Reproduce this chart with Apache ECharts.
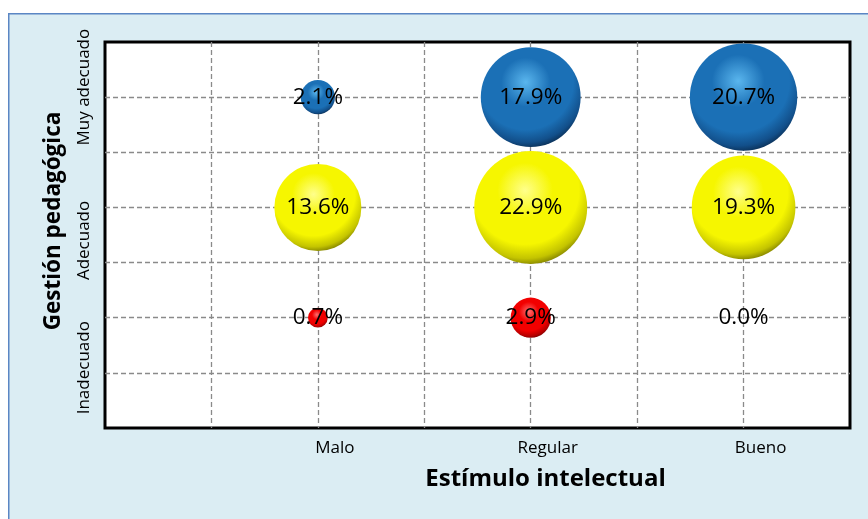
<!DOCTYPE html>
<html>
<head>
<meta charset="utf-8">
<script src="https://cdn.jsdelivr.net/npm/echarts@6/dist/echarts.min.js"></script>
<style>
  html, body { margin: 0; padding: 0; background: #ffffff; }
  #chart { width: 868px; height: 519px; }
</style>
</head>
<body>
<div id="chart"></div>
<script>
// Categories
const xLabels = ['Malo', 'Regular', 'Bueno'];
const yLabels = ['Inadecuado', 'Adecuado', 'Muy adecuado'];

// Percentages per row of "Gestión pedagógica", across Malo / Regular / Bueno
const muyAdecuado = [2.1, 17.9, 20.7];
const adecuado = [13.6, 22.9, 19.3];
const inadecuado = [0.7, 2.9, 0.0];

const FONT = '"Open Sans", "DejaVu Sans", sans-serif';
const SIZE_K = 23.6; // diameter per sqrt(percent)

// Shaded ball: soft highlight near the top, darker rim toward the lower right
function sphere(light, base, mid, dark) {
  return {
    type: 'radial', x: 0.45, y: 0.35, r: 0.7,
    colorStops: [
      { offset: 0, color: light },
      { offset: 0.35, color: base },
      { offset: 0.68, color: base },
      { offset: 0.86, color: mid },
      { offset: 1, color: dark }
    ]
  };
}

function rowSeries(name, values, level, color) {
  return {
    name: name,
    type: 'scatter',
    data: values.map((v, i) => [i + 1, level, v]),
    symbolSize: d => Math.sqrt(d[2]) * SIZE_K,
    itemStyle: { color: color, opacity: 1 },
    label: {
      show: true,
      position: 'inside',
      formatter: p => p.value[2].toFixed(1) + '%',
      color: '#000',
      fontFamily: FONT,
      fontSize: 22.5
    },
    emphasis: { disabled: true },
    z: 3
  };
}

const chart = echarts.init(document.getElementById('chart'));

const gridLine = {
  show: true,
  showMinLine: false,
  showMaxLine: false,
  lineStyle: { color: '#8a8a8a', width: 1.3, type: [5, 3] }
};

chart.setOption({
  animation: false,
  backgroundColor: '#ffffff',
  graphic: [{
    type: 'rect',
    left: 8, top: 13,
    shape: { width: 880, height: 530 },
    style: { fill: '#DBEDF3', stroke: '#5B86C4', lineWidth: 1.5 },
    z: -10
  }],
  grid: {
    left: 105, top: 42, right: 18, bottom: 91,
    show: true,
    backgroundColor: '#ffffff',
    borderColor: '#000000',
    borderWidth: 3
  },
  xAxis: {
    type: 'value',
    min: 0, max: 3.5, interval: 0.5,
    name: 'Estímulo intelectual',
    nameLocation: 'middle',
    nameGap: 39,
    nameTextStyle: {
      fontFamily: FONT, fontSize: 24, fontWeight: 'bold', color: '#000',
      padding: [0, 0, 0, 136]
    },
    axisLine: { show: false },
    axisTick: { show: false },
    splitLine: gridLine,
    axisLabel: {
      fontFamily: FONT, fontSize: 17, color: '#000',
      margin: 12,
      padding: [0, 0, 0, 34],
      formatter: v => (Number.isInteger(v) && v >= 1 && v <= 3) ? xLabels[v - 1] : ''
    }
  },
  yAxis: {
    type: 'value',
    min: 0, max: 3.5, interval: 0.5,
    name: 'Gestión pedagógica',
    nameLocation: 'middle',
    nameGap: 40,
    nameTextStyle: {
      fontFamily: FONT, fontSize: 22.5, fontWeight: 'bold', color: '#000',
      padding: [0, 0, 0, 28]
    },
    axisLine: { show: false },
    axisTick: { show: false },
    splitLine: gridLine,
    axisLabel: {
      rotate: 90,
      margin: 12,
      formatter: v => {
        if (!(Number.isInteger(v) && v >= 1 && v <= 3)) return '';
        return '{l' + v + '|' + yLabels[v - 1] + '}';
      },
      rich: {
        l1: { fontFamily: FONT, fontSize: 17, color: '#000', padding: [0, 100, 0, 0] },
        l2: { fontFamily: FONT, fontSize: 17, color: '#000', padding: [0, 66, 0, 0] },
        l3: { fontFamily: FONT, fontSize: 17, color: '#000', padding: [0, 0, 0, 20] }
      }
    }
  },
  series: [
    rowSeries('Muy adecuado', muyAdecuado, 3, sphere('#5ab6ee', '#1b70b6', '#124f8a', '#071f3a')),
    rowSeries('Adecuado', adecuado, 2, sphere('#ffff8c', '#f6f600', '#c4c400', '#5e5e00')),
    rowSeries('Inadecuado', inadecuado, 1, sphere('#ff7070', '#f20000', '#b80000', '#5e0000'))
  ]
});
</script>
</body>
</html>
